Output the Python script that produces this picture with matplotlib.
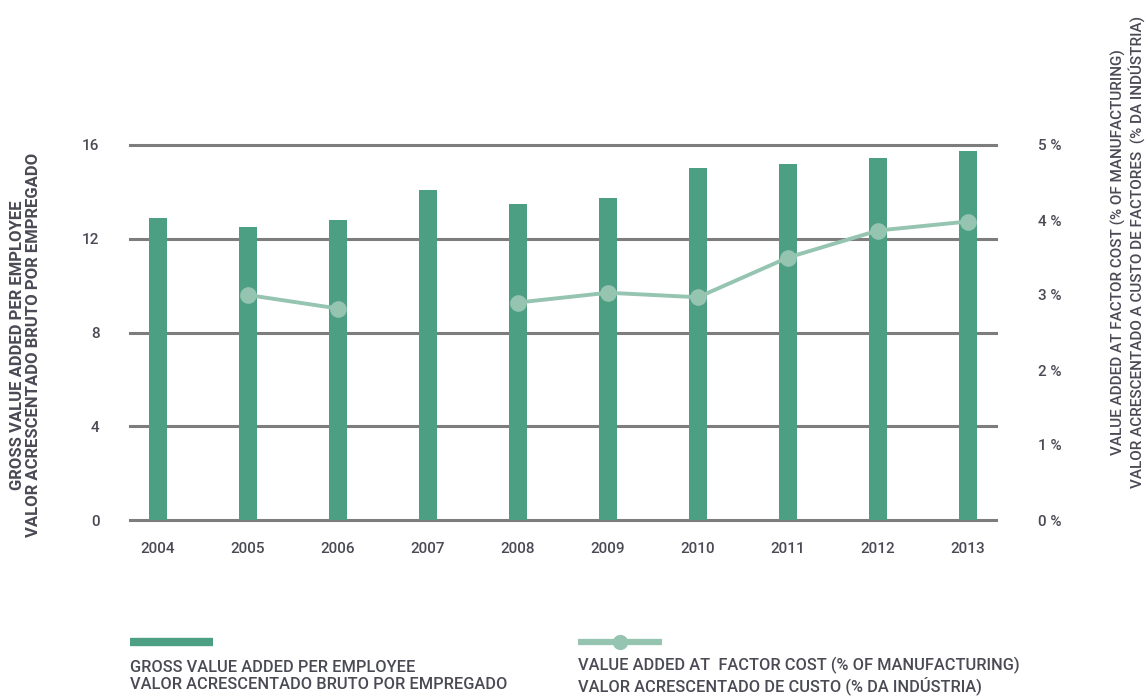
import matplotlib
matplotlib.use("Agg")
import matplotlib.pyplot as plt
from matplotlib.lines import Line2D
import numpy as np

plt.rcParams['font.family'] = ['Roboto', 'DejaVu Sans']

years = ['2004', '2005', '2006', '2007', '2008', '2009', '2010', '2011', '2012', '2013']
gva_per_employee = [12.9, 12.5, 12.8, 14.1, 13.5, 13.75, 15.0, 15.2, 15.45, 15.75]
va_factor_cost = [np.nan, 3.0, 2.82, np.nan, 2.9, 3.03, 2.97, 3.5, 3.86, 3.98]

bar_color = '#4c9f83'
line_color = '#95c4b1'
grid_color = '#7d7d7d'
text_color = '#4a4a55'

fig = plt.figure(figsize=(11.47, 7), dpi=100)
ax = fig.add_axes([130 / 1147, 1 - 520 / 700, 866 / 1147, 375 / 700])
ax2 = ax.twinx()

x = np.arange(len(years))
ax.bar(x, gva_per_employee, width=0.2, color=bar_color, zorder=3)
ax.set_xlim(-0.31, 9.31)
ax.set_ylim(0, 16)
ax.set_yticks([0, 4, 8, 12, 16])
ax.set_xticks(x)
ax.set_xticklabels(years)
for v in [0, 4, 8, 12, 16]:
    ax.axhline(v, color=grid_color, lw=2.2, zorder=1, clip_on=False)

ax2.plot(x, va_factor_cost, color=line_color, lw=2.8, marker='o', markersize=12,
         markeredgewidth=0, zorder=4)
ax2.set_ylim(0, 5)
ax2.set_yticks([0, 1, 2, 3, 4, 5])
ax2.set_yticklabels(['0 %', '1 %', '2 %', '3 %', '4 %', '5 %'])

ax.set_zorder(1)
ax2.set_zorder(2)
ax2.patch.set_visible(False)

for a in (ax, ax2):
    for s in a.spines.values():
        s.set_visible(False)
    a.tick_params(length=0, labelsize=11, labelcolor=text_color)
    for lbl in a.get_xticklabels() + a.get_yticklabels():
        lbl.set_fontweight('medium')
ax.tick_params(axis='y', pad=22)
ax.tick_params(axis='x', pad=16)
ax2.tick_params(axis='y', pad=30)

fig.text(0.022, 0.507, 'GROSS VALUE ADDED PER EMPLOYEE\nVALOR ACRESCENTADO BRUTO POR EMPREGADO',
         rotation=90, ha='center', va='center', fontsize=12, color=text_color,
         fontweight='bold', linespacing=1.1)
fig.text(0.983, 0.64, 'VALUE ADDED AT FACTOR COST (% OF MANUFACTURING)\nVALOR ACRESCENTADO A CUSTO DE FACTORES  (% DA INDÚSTRIA)',
         rotation=90, ha='center', va='center', fontsize=11, color=text_color,
         fontweight='medium', linespacing=1.15)

# legend
fig.add_artist(Line2D([130 / 1147, 213 / 1147], [1 - 642 / 700] * 2, color=bar_color,
                      lw=6, solid_capstyle='butt'))
fig.add_artist(Line2D([578 / 1147, 662 / 1147], [1 - 642 / 700] * 2, color=line_color,
                      lw=4.5, solid_capstyle='butt'))
fig.add_artist(Line2D([620 / 1147], [1 - 642 / 700], color=line_color, marker='o',
                      markersize=11, markeredgewidth=0))
fig.text(130 / 1147, 1 - 676 / 700, 'GROSS VALUE ADDED PER EMPLOYEE\nVALOR ACRESCENTADO BRUTO POR EMPREGADO',
         ha='left', va='center', fontsize=11.8, color=text_color, fontweight='medium', linespacing=1.15)
fig.text(578 / 1147, 1 - 676 / 700, 'VALUE ADDED AT  FACTOR COST (% OF MANUFACTURING)\nVALOR ACRESCENTADO DE CUSTO (% DA INDÚSTRIA)',
         ha='left', va='center', fontsize=11.8, color=text_color, fontweight='medium', linespacing=1.15)

fig.savefig('out.png', dpi=100)
